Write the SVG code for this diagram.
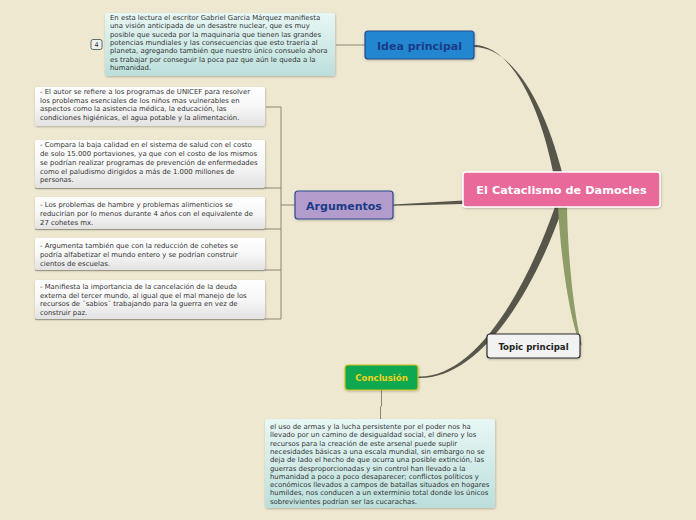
<svg xmlns="http://www.w3.org/2000/svg" width="696" height="520" viewBox="0 0 696 520">
<style>
.main{font-family:"DejaVu Sans",Verdana,sans-serif;font-weight:bold}
.note{font-family:"DejaVu Sans",Verdana,sans-serif;fill:#333}
.ln{fill:none;stroke:#8C8473;stroke-width:1}
</style>
<defs>
<linearGradient id="gCyan" x1="0" y1="0" x2="0" y2="1">
<stop offset="0" stop-color="#E8F7F5"/>
<stop offset="1" stop-color="#BCDFDB"/>
</linearGradient>
<linearGradient id="gWhite" x1="0" y1="0" x2="0" y2="1">
<stop offset="0" stop-color="#FFFFFF"/>
<stop offset="0.5" stop-color="#F7F7F7"/>
<stop offset="1" stop-color="#E2E2E2"/>
</linearGradient>
<filter id="sh" x="-10%" y="-10%" width="120%" height="130%">
<feDropShadow dx="0.5" dy="1" stdDeviation="0.8" flood-color="#000" flood-opacity="0.25"/>
</filter>
</defs>
<rect width="696" height="520" fill="#EFE8D1"/>

<g id="connectors">
<path d="M474,45 C512,45 541,110 553,172 L562,172 C546,108 514,47 474,47 Z" fill="#57564A"/>
<path d="M393,204.5 L463,200.5 L463,204 L393,205.8 Z" fill="#57564A"/>
<path d="M418,376.5 C472,378 522,300 555,207 L563,207 C530,302 476,379.5 418,378 Z" fill="#57564A"/>
<path d="M558,207 C561,260 569,315 580,344 L585,347 L582,345 C574,315 568,260 567,207 Z" fill="#8E9D68"/>
<path class="ln" d="M336,45 L365,45"/>
<path class="ln" d="M281,107 L281,319 M266,107 L281,107 M35,188 L281,188 M35,229 L281,229 M35,270 L281,270 M35,319 L281,319 M281,205 L295,205"/>
<path class="ln" d="M381.5,390 L381.5,406 L380.5,407 L380.5,419"/>
</g>

<g id="center">
<rect x="463" y="172" width="197" height="35" rx="3" fill="#E9699A" stroke="#FFFFFF" stroke-width="1.5" filter="url(#sh)"/>
<text class="main" x="561.5" y="194" font-size="11.3" fill="#FFFFFF" text-anchor="middle">El Cataclismo de Damocles</text>
</g>

<g id="idea">
<rect x="365" y="31" width="109" height="28" rx="3" fill="#2386D0" stroke="#1F4E8E" stroke-width="1.2" filter="url(#sh)"/>
<text class="main" x="419.5" y="49.5" font-size="11" fill="#1B3C88" text-anchor="middle">Idea principal</text>
</g>

<g id="idea-note">
<rect x="105" y="13" width="230" height="63" rx="2" fill="url(#gCyan)" filter="url(#sh)"/>
<text class="note" font-size="6.9" x="110">
<tspan x="110" y="19.8">En esta lectura el escritor Gabriel Garcia Márquez manifiesta</tspan>
<tspan x="110" y="28.2">una visión anticipada de un desastre nuclear, que es muy</tspan>
<tspan x="110" y="36.6">posible que suceda por la maquinaria que tienen las grandes</tspan>
<tspan x="110" y="45">potencias mundiales y las consecuencias que esto traería al</tspan>
<tspan x="110" y="53.4">planeta, agregando también que nuestro único consuelo ahora</tspan>
<tspan x="110" y="61.8">es trabajar por conseguir la poca paz que aún le queda a la</tspan>
<tspan x="110" y="70.2">humanidad.</tspan>
</text>
</g>

<g id="badge">
<rect x="91" y="39.5" width="11" height="10" rx="2" fill="#EEF3EF" stroke="#3E4A4A" stroke-width="0.8"/>
<text class="note" x="96.5" y="47" font-size="6.5" text-anchor="middle">4</text>
</g>

<g id="argumentos">
<rect x="295" y="191" width="98" height="28" rx="3" fill="#B39BCB" stroke="#2E4A8E" stroke-width="1.2" filter="url(#sh)"/>
<text class="main" x="344" y="209.5" font-size="11" fill="#1B3C88" text-anchor="middle">Argumentos</text>
</g>

<g id="arg1">
<rect x="35" y="87" width="230" height="39" rx="2" fill="url(#gWhite)" filter="url(#sh)"/>
<text class="note" font-size="6.9">
<tspan x="40" y="94">- El autor se refiere a los programas de UNICEF para resolver</tspan>
<tspan x="40" y="102.7">los problemas esenciales de los niños mas vulnerables en</tspan>
<tspan x="40" y="111.4">aspectos como la asistencia médica, la educación, las</tspan>
<tspan x="40" y="120.1">condiciones higiénicas, el agua potable y la alimentación.</tspan>
</text>
</g>

<g id="arg2">
<rect x="35" y="140" width="230" height="48" rx="2" fill="url(#gWhite)" filter="url(#sh)"/>
<text class="note" font-size="6.9">
<tspan x="40" y="147.2">- Compara la baja calidad en el sistema de salud con el costo</tspan>
<tspan x="40" y="156">de solo 15.000 portaviones, ya que con el costo de los mismos</tspan>
<tspan x="40" y="164.8">se podrían realizar programas de prevención de enfermedades</tspan>
<tspan x="40" y="173.6">como el paludismo dirigidos a más de 1.000 millones de</tspan>
<tspan x="40" y="182.4">personas.</tspan>
</text>
</g>

<g id="arg3">
<rect x="35" y="197" width="230" height="32" rx="2" fill="url(#gWhite)" filter="url(#sh)"/>
<text class="note" font-size="6.9">
<tspan x="40" y="207.3">- Los problemas de hambre y problemas alimenticios se</tspan>
<tspan x="40" y="216">reducirían por lo menos durante 4 años con el equivalente de</tspan>
<tspan x="40" y="224.7">27 cohetes mx.</tspan>
</text>
</g>

<g id="arg4">
<rect x="35" y="238" width="230" height="32" rx="2" fill="url(#gWhite)" filter="url(#sh)"/>
<text class="note" font-size="6.9">
<tspan x="40" y="248.3">- Argumenta también que con la reducción de cohetes se</tspan>
<tspan x="40" y="257">podría alfabetizar el mundo entero y se podrían construir</tspan>
<tspan x="40" y="265.7">cientos de escuelas.</tspan>
</text>
</g>

<g id="arg5">
<rect x="35" y="280" width="230" height="39" rx="2" fill="url(#gWhite)" filter="url(#sh)"/>
<text class="note" font-size="6.9">
<tspan x="40" y="289">- Manifiesta la importancia de la cancelación de la deuda</tspan>
<tspan x="40" y="297.7">externa del tercer mundo, al igual que el mal manejo de los</tspan>
<tspan x="40" y="306.4">recursos de ¨sabios¨ trabajando para la guerra en vez de</tspan>
<tspan x="40" y="315.1">construir paz.</tspan>
</text>
</g>

<g id="conclusion">
<rect x="345" y="365" width="73" height="25" rx="3" fill="#0AA84F" stroke="#D9C21E" stroke-width="1.2" filter="url(#sh)"/>
<text class="main" x="381.5" y="381" font-size="8.6" fill="#F2D21C" text-anchor="middle">Conclusión</text>
</g>

<g id="conclusion-note">
<rect x="265" y="419" width="230" height="89" rx="2" fill="url(#gCyan)" filter="url(#sh)"/>
<text class="note" font-size="6.9">
<tspan x="270" y="429">el uso de armas y la lucha persistente por el poder nos ha</tspan>
<tspan x="270" y="437.3">llevado por un camino de desigualdad social, el dinero y los</tspan>
<tspan x="270" y="445.6">recursos para la creación de este arsenal puede suplir</tspan>
<tspan x="270" y="453.9">necesidades básicas a una escala mundial, sin embargo no se</tspan>
<tspan x="270" y="462.2">deja de lado el hecho de que ocurra una posible extinción, las</tspan>
<tspan x="270" y="470.5">guerras desproporcionadas y sin control han llevado a la</tspan>
<tspan x="270" y="478.8">humanidad a poco a poco desaparecer; conflictos políticos y</tspan>
<tspan x="270" y="487.1">económicos llevados a campos de batallas situados en hogares</tspan>
<tspan x="270" y="495.4">humildes, nos conducen a un exterminio total donde los únicos</tspan>
<tspan x="270" y="503.7">sobrevivientes podrían ser las cucarachas.</tspan>
</text>
</g>

<g id="topic">
<rect x="487" y="334" width="93" height="24" rx="3" fill="#F2F2F2" stroke="#2E2E2E" stroke-width="1.2" filter="url(#sh)"/>
<text class="main" x="533.5" y="349.5" font-size="8.6" fill="#222" text-anchor="middle">Topic principal</text>
</g>
</svg>
